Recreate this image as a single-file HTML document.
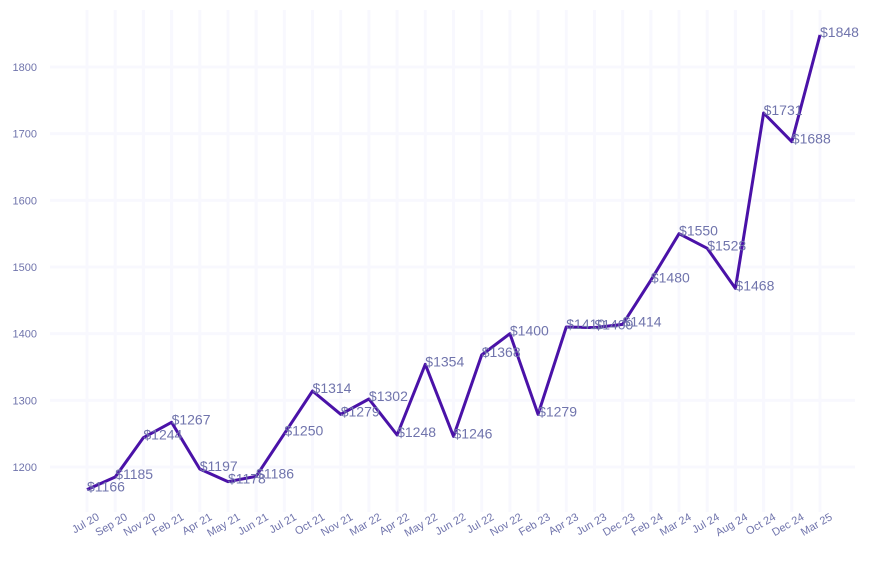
<!DOCTYPE html>
<html><head><meta charset="utf-8"><style>
body{margin:0;background:#fff;}
svg text{font-family:"Liberation Sans",sans-serif;}
</style></head><body>
<svg id="chart" width="873" height="565" xmlns="http://www.w3.org/2000/svg">
<g id="grid"></g>
<g id="yaxis"></g>
<g id="xaxis"></g>
<g id="series"></g>
</svg>
<script>
const categories=["Jul 20","Sep 20","Nov 20","Feb 21","Apr 21","May 21","Jun 21","Jul 21","Oct 21","Nov 21","Mar 22","Apr 22","May 22","Jun 22","Jul 22","Nov 22","Feb 23","Apr 23","Jun 23","Dec 23","Feb 24","Mar 24","Jul 24","Aug 24","Oct 24","Dec 24","Mar 25"];
const prices=[1166,1185,1244,1267,1197,1178,1186,1250,1314,1279,1302,1248,1354,1246,1368,1400,1279,1410,1409,1414,1480,1550,1528,1468,1731,1688,1848];
const yTicks=[1200,1300,1400,1500,1600,1700,1800];

const NS="http://www.w3.org/2000/svg";
const x0=87,x1=820,xL=50,xR=855,yTop=10,yBot=512;
function xs(i){return x0+i*(x1-x0)/(categories.length-1);}
function ys(v){return 467-(v-1200)*(400/600);}
function mk(tag,attrs,parent,text){const e=document.createElementNS(NS,tag);for(const k in attrs)e.setAttribute(k,attrs[k]);if(text!==undefined)e.textContent=text;parent.appendChild(e);return e;}
const grid=document.getElementById('grid'),ya=document.getElementById('yaxis'),xa=document.getElementById('xaxis'),se=document.getElementById('series');
yTicks.forEach(t=>{
  const l=mk('line',{x1:xL,x2:xR,y1:ys(t),y2:ys(t),stroke:'#f8f8fe','stroke-width':3},grid);
  
  
  const tx=mk('text',{x:37,y:ys(t)+4,'text-anchor':'end','font-size':11,fill:'#7074ac'},ya,t);
  
  
});
categories.forEach((c,i)=>{
  const l=mk('line',{x1:xs(i),x2:xs(i),y1:yTop,y2:yBot,stroke:'#f8f8fe','stroke-width':3},grid);
  
  
  const x=xs(i)+13,y=519;
  const tx=mk('text',{x:x,y:y,'text-anchor':'end','font-size':11,fill:'#7074ac',transform:`rotate(-30 ${x} ${y})`},xa,c);
  
  
});
const pts=prices.map((v,i)=>xs(i)+','+ys(v)).join(' ');
const pl=mk('polyline',{points:pts,fill:'none',stroke:'#4a12a8','stroke-width':3,'stroke-linejoin':'round'},se);


prices.forEach((v,i)=>{
  const tx=mk('text',{x:xs(i),y:ys(v)+2,'font-size':14,fill:'#7074ac'},se,'$'+v);
  
  
});
</script>
</body></html>
